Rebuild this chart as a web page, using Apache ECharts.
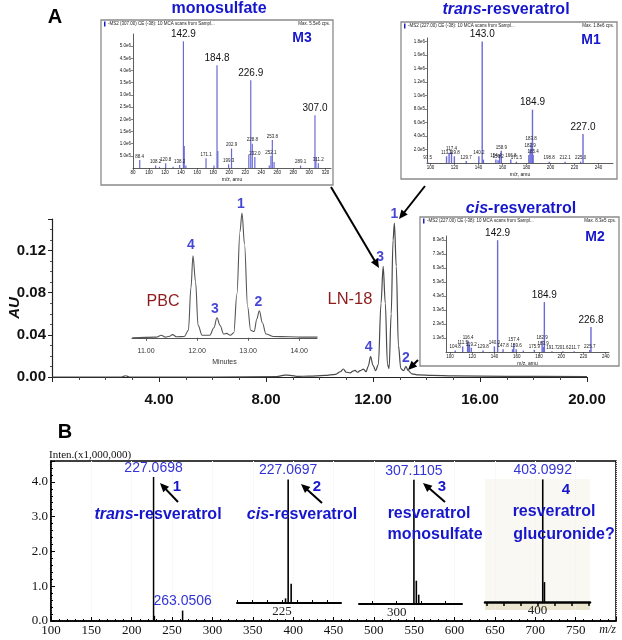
<!DOCTYPE html>
<html>
<head>
<meta charset="utf-8">
<script src="https://cdn.jsdelivr.net/npm/echarts@6/dist/echarts.min.js"></script>
<style>
html, body { margin: 0; padding: 0; background: #fff; }
#chart { width: 622px; height: 640px; }
</style>
</head>
<body>
<div id="chart"></div>
<script>
// ---- Panel A: LN-18 chromatogram (minutes, AU)
const lnTime = [0, 2.6, 2.75, 2.9, 6, 8.4, 8.7, 8.9, 9.2, 9.6, 10.2, 10.6, 10.78, 10.89, 11.0, 11.15, 11.25, 11.33, 11.42, 11.52,
  11.64, 11.74, 11.82, 11.91, 12.0, 12.1, 12.2, 12.3, 12.38, 12.46, 12.54, 12.6, 12.68, 12.75, 12.80, 12.87, 12.95, 13.04, 13.14,
  13.23, 13.32, 13.45, 13.7, 14.2, 15, 17, 20]
const lnAU = [0, 0, 0.0012, 0, 0, 0.0004, 0.0018, 0.0016, 0.0006, 0.0008, 0.0015, 0.0025, 0.005, 0.0076, 0.0045, 0.004, 0.0055, 0.0062, 0.0045, 0.006,
  0.0075, 0.005, 0.01, 0.0194, 0.011, 0.006, 0.012, 0.07, 0.105, 0.07, 0.012, 0.008, 0.06, 0.13, 0.146, 0.105, 0.03, 0.008, 0.006,
  0.0098, 0.006, 0.003, 0.002, 0.0015, 0.001, 0.0006, 0.0004]
const lnPeakNum = ['4', '3', '1', '2']
const lnPeakTime = [11.91, 12.38, 12.80, 13.23]
const lnPeakAU = [0.0194, 0.105, 0.146, 0.0098]

// PBC inset chromatogram (minutes, relative signal)
const pbcTime = [10.73, 11.2, 11.3, 11.38, 11.45, 11.52, 11.6, 11.75, 11.83, 11.88, 11.92, 11.97, 12.02, 12.1, 12.25, 12.33, 12.39, 12.45, 12.52, 12.58,
  12.65, 12.72, 12.78, 12.84, 12.88, 12.93, 12.99, 13.05, 13.12, 13.17, 13.22, 13.28, 13.35, 13.5, 13.8, 14.1, 14.36]
const pbcSignal = [0, 0.005, 0.02, 0.005, 0.01, 0.025, 0.008, 0.01, 0.06, 0.4, 0.656, 0.45, 0.1, 0.02, 0.02, 0.08, 0.16, 0.1, 0.03, 0.035,
  0.02, 0.04, 0.35, 0.85, 1.0, 0.75, 0.25, 0.06, 0.05, 0.15, 0.216, 0.12, 0.03, 0.01, 0.008, 0.005, 0.005]
const pbcPeakNum = ['4', '3', '1', '2']
const pbcPeakTime = [11.92, 12.39, 12.88, 13.22]
const pbcPeakSignal = [0.656, 0.16, 1.0, 0.216]
const pbcTicks = [11, 12, 13, 14]

// MS/MS spectra (m/z, counts)
const m3Mz = [88.4, 108.2, 113.0, 120.8, 130.0, 138.2, 142.9, 143.9, 146.0, 171.1, 181.0, 184.8, 185.8, 199.3, 202.9, 224.5, 226.9, 228.8, 232.0,
  250.0, 252.1, 253.8, 256.0, 289.1, 307.0, 308.2, 311.2]
const m3Int = [0.33e6, 0.10e6, 0.05e6, 0.20e6, 0.05e6, 0.12e6, 5.20e6, 0.90e6, 0.10e6, 0.40e6, 0.10e6, 4.22e6, 0.70e6, 0.15e6, 0.80e6, 0.55e6, 3.60e6, 1.00e6, 0.45e6,
  0.10e6, 0.50e6, 1.15e6, 0.25e6, 0.10e6, 2.17e6, 0.45e6, 0.20e6]
const m3Big = [142.9, 184.8, 226.9, 307.0]
const m3Small = [88.4, 108.2, 120.8, 138.2, 171.1, 199.3, 202.9, 228.8, 232.0, 252.1, 253.8, 289.1, 311.2]

const m1Mz = [97.5, 113.3, 115.4, 117.4, 119.8, 129.7, 140.2, 143.0, 144.0, 154.4, 156.2, 157.5, 158.9, 166.8, 171.5, 181.9, 182.9, 183.8, 184.9, 185.4,
  198.8, 212.1, 225.0, 227.0]
const m1Int = [0.02e6, 0.10e6, 0.15e6, 0.16e6, 0.10e6, 0.03e6, 0.10e6, 1.80e6, 0.05e6, 0.05e6, 0.04e6, 0.12e6, 0.18e6, 0.05e6, 0.02e6, 0.12e6, 0.20e6, 0.30e6, 0.79e6, 0.12e6,
  0.02e6, 0.02e6, 0.02e6, 0.43e6]
const m1Big = [143.0, 184.9, 227.0]
const m1Small = [97.5, 113.3, 117.4, 119.8, 129.7, 140.2, 154.4, 156.2, 158.9, 166.8, 171.5, 182.9, 183.8, 185.4, 198.8, 212.1, 225.0]

const m2Mz = [104.8, 111.5, 115.9, 116.4, 117.5, 119.2, 129.8, 140.0, 142.9, 147.8, 156.3, 157.4, 159.6, 166.0, 175.9, 182.9, 183.9, 184.9, 191.7,
  201.6, 211.7, 225.7, 226.8]
const m2Int = [0.4e5, 0.7e5, 0.9e5, 1.1e5, 0.8e5, 0.6e5, 0.4e5, 0.7e5, 8.3e5, 0.5e5, 0.5e5, 0.9e5, 0.5e5, 0.4e5, 0.45e5, 1.1e5, 0.65e5, 3.87e5, 0.35e5,
  0.35e5, 0.35e5, 0.45e5, 2.09e5]
const m2Big = [142.9, 184.9, 226.8]
const m2Small = [104.8, 111.5, 116.4, 119.2, 129.8, 140.0, 147.8, 157.4, 159.6, 175.9, 182.9, 183.9, 191.7, 201.6, 211.7, 225.7]
const mzTicks = [100, 120, 140, 160, 180, 200, 220, 240]

// ---- Panel B: accurate mass spectrum (m/z, x1,000,000)
const bMainMz = [227.0698, 228.07, 263.0506]
const bMainInt = [4.14, 0.15, 0.30]
const bMainTagged = [227.0698, 263.0506]
const bCisMz = [226.2, 227.0697, 228.07]
const bCisInt = [0.15, 4.0, 0.62]
const bMonoMz = [307.1105, 308.11, 309.1]
const bMonoInt = [4.0, 0.75, 0.3]
const bGlucMz = [403.0992, 404.1]
const bGlucInt = [4.0, 0.65]
const cisTicks = [210, 215, 220, 225, 230, 235, 240]
const monoTicks = [290, 300, 310, 320]
const glucTicks = [370, 380, 390, 400, 410, 420, 430]

const SANS = '"Liberation Sans", Arial, sans-serif'
const SERIF = '"Liberation Serif", "Times New Roman", serif'
const BLUE = '#1616cc'
const LBLUE = '#3434d6'
const DARKRED = '#8e1c1c'
const SPEC = '#6a6ad6'

const zip = (xs, ys) => xs.map((x, i) => [x, ys[i]])

// label offsets for peak numbers (style only)
const lnShift = [[-2, 0], [-3, 0], [0, 0], [0, 0]]
const pbcShift = [[-2, -2], [-2, 0], [-1, 0], [-1, 0]]

function peakNumbers(times, vals, nums, shift) {
  return times.map((t, i) => ({
    value: [t, vals[i]],
    label: { show: true, formatter: nums[i], offset: shift[i] },
  }))
}

function specData(mz, inten, big, small) {
  return mz.map((m, i) => {
    const item = { value: [m, inten[i]] }
    if (big.includes(m)) {
      item.label = { show: true, position: 'top', distance: 2, formatter: m.toFixed(1), fontSize: 10, color: '#111', fontFamily: SANS }
    } else if (small.includes(m)) {
      item.label = { show: true, position: 'top', distance: 1, formatter: m.toFixed(1), fontSize: 4.5, color: '#222', fontFamily: SANS }
    }
    return item
  })
}

function bData(mz, inten, tagged) {
  return mz.map((m, i) => {
    const item = { value: [m, inten[i]] }
    if (tagged.includes(m)) {
      item.label = { show: true, position: 'top', distance: 2, formatter: m.toFixed(4), fontSize: 14, color: LBLUE, fontFamily: SANS }
    }
    return item
  })
}

const eFmt = v => v >= 1e6 ? (v / 1e6).toFixed(1) + 'e6' : (v / 1e5).toFixed(1) + 'e5'

// small spectrum axes
function specX(grid, min, max, extra) {
  return Object.assign({
    gridIndex: grid, type: 'value', min, max,
    axisLine: { lineStyle: { color: '#333', width: 0.8 } },
    axisTick: { show: true, length: 2, lineStyle: { color: '#333', width: 0.6 } },
    axisLabel: { fontSize: 4.5, color: '#111', margin: 2, fontFamily: SANS, showMaxLabel: false },
    splitLine: { show: false },
    name: 'm/z, amu', nameLocation: 'middle', nameGap: 9,
    nameTextStyle: { fontSize: 5, color: '#111', fontFamily: SANS },
  }, extra)
}
function specY(grid, min, max, interval) {
  return {
    gridIndex: grid, type: 'value', min, max, interval,
    axisLine: { show: true, lineStyle: { color: '#333', width: 0.8 } },
    axisTick: { show: true, length: 2, lineStyle: { color: '#333', width: 0.6 } },
    axisLabel: { fontSize: 4.5, color: '#111', margin: 2, fontFamily: SANS, showMinLabel: false, showMaxLabel: false, formatter: eFmt },
    splitLine: { show: false },
  }
}
function zoomX(grid, min, max, ticks, labels, extra) {
  return Object.assign({
    gridIndex: grid, type: 'value', min, max,
    axisLine: { lineStyle: { color: '#000', width: 2 } },
    axisTick: { show: true, inside: true, length: 3, customValues: ticks, lineStyle: { color: '#000', width: 1 } },
    axisLabel: { customValues: labels, fontSize: 13, color: '#222', margin: 2, fontFamily: SERIF },
    splitLine: { show: false },
  }, extra)
}
const hiddenY = (grid, min, max) => ({ gridIndex: grid, type: 'value', min, max, show: false, splitLine: { show: false } })

function txt(x, y, text, style, extra) {
  return Object.assign({
    type: 'text', x, y, z: 100,
    style: Object.assign({ text, align: 'center', verticalAlign: 'middle', fontFamily: SANS, fontSize: 12, fill: '#000' }, style),
  }, extra)
}
function box(x, y, w, h) {
  return { type: 'rect', z: -1, shape: { x, y, width: w, height: h }, style: { fill: '#fff', stroke: '#8a8a8a', lineWidth: 1.3 } }
}
function header(x, y, w, left, right) {
  return [
    { type: 'rect', z: 100, shape: { x: x + 3, y: y - 2.5, width: 1.5, height: 5 }, style: { fill: '#2020c0' } },
    txt(x + 7, y, left, { align: 'left', fontSize: 4.5, fill: '#222' }),
    txt(x + w - 3, y, right, { align: 'right', fontSize: 4.5, fill: '#222' }),
  ]
}
const titleStyle = { fontSize: 16, fontWeight: 'bold', fill: BLUE }
const italicRich = (size) => ({
  i: { fontStyle: 'italic', fontWeight: 'bold', fontSize: size, fill: BLUE, fontFamily: SANS },
  n: { fontWeight: 'bold', fontSize: size, fill: BLUE, fontFamily: SANS },
})

// annotation arrows: [fromX, fromY, tipX, tipY]
const arrowsA = [[331, 187, 379, 268], [425, 186, 399, 219], [418, 360, 408, 370]]
const arrowsB = [[178, 502, 160, 483], [322, 503, 301, 484], [445, 502, 423, 483]]

function arrow(a) {
  const [x1, y1, x2, y2] = a
  const len = Math.hypot(x2 - x1, y2 - y1)
  const ux = (x2 - x1) / len, uy = (y2 - y1) / len
  const head = 9, half = 4
  const bx = x2 - ux * head, by = y2 - uy * head
  return [
    { type: 'line', z: 90, shape: { x1, y1, x2: bx + ux * 2, y2: by + uy * 2 }, style: { stroke: '#000', lineWidth: 2 } },
    { type: 'polygon', z: 90, shape: { points: [[x2, y2], [bx - uy * half, by + ux * half], [bx + uy * half, by - ux * half]] }, style: { fill: '#000' } },
  ]
}

const chart = echarts.init(document.getElementById('chart'))

chart.setOption({
  animation: false,
  backgroundColor: '#fff',
  grid: [
    { left: 52, right: 35, top: 219, bottom: 263 },                 // 0 A main
    { left: 132, right: 305, top: 213, bottom: 296 },               // 1 PBC inset
    { left: 133, right: 291, top: 34, bottom: 472 },                // 2 M3
    { left: 427, right: 9, top: 38, bottom: 477 },                  // 3 M1
    { left: 446, right: 13, top: 236, bottom: 288 },                // 4 M2
    { left: 51, right: 6, top: 461, bottom: 19, show: true, borderColor: '#000', borderWidth: 1.5 }, // 5 B main
    { left: 237, right: 281, top: 461, bottom: 37 },                // 6 cis zoom
    { left: 359, right: 160, top: 461, bottom: 36 },                // 7 mono zoom
    { left: 485, right: 32, top: 461, bottom: 38 },                 // 8 gluc zoom
  ],
  xAxis: [
    {
      gridIndex: 0, type: 'value', min: 0, max: 20, interval: 4, offset: 8,
      axisLine: { lineStyle: { color: '#222', width: 1.2 } },
      axisTick: { length: 5, lineStyle: { color: '#222' } },
      minorTick: { show: true, splitNumber: 4, length: 3, lineStyle: { color: '#444' } },
      splitLine: { show: false },
      axisLabel: { showMinLabel: false, formatter: v => v.toFixed(2), fontFamily: SANS, fontWeight: 'bold', fontSize: 15, color: '#111', margin: 7 },
    },
    {
      gridIndex: 1, type: 'value', min: 10.725, max: 14.35,
      axisLine: { lineStyle: { color: '#555', width: 1 } },
      axisTick: { show: true, length: 3, customValues: pbcTicks, lineStyle: { color: '#555' } },
      axisLabel: { customValues: pbcTicks, formatter: v => v.toFixed(2), fontSize: 7, color: '#333', margin: 4, fontFamily: SANS },
      splitLine: { show: false },
      name: 'Minutes', nameLocation: 'middle', nameGap: 15, nameTextStyle: { fontSize: 7, color: '#333', fontFamily: SANS },
    },
    specX(2, 80, 327, { interval: 20 }),
    specX(3, 97, 252, { axisTick: { show: true, length: 2, customValues: mzTicks, lineStyle: { color: '#333', width: 0.6 } },
      axisLabel: { customValues: mzTicks, fontSize: 4.5, color: '#111', margin: 2, fontFamily: SANS } }),
    specX(4, 96.5, 243, { axisTick: { show: true, length: 2, customValues: mzTicks, lineStyle: { color: '#333', width: 0.6 } },
      axisLabel: { customValues: mzTicks, fontSize: 4.5, color: '#111', margin: 2, fontFamily: SANS } }),
    {
      gridIndex: 5, type: 'value', min: 100, max: 800, interval: 50,
      axisLine: { lineStyle: { color: '#000', width: 1.5 } },
      axisTick: { inside: true, length: 4, lineStyle: { color: '#000' } },
      minorTick: { show: true, splitNumber: 5, length: 2, lineStyle: { color: '#000' } },
      splitLine: { show: true, lineStyle: { color: '#f1f1f1', type: 'dotted' } },
      axisLabel: {
        fontFamily: SERIF, fontSize: 13, color: '#111', margin: 3, alignMaxLabel: 'right',
        formatter: v => v === 800 ? '{u|m/z}' : String(v),
        rich: { u: { fontFamily: SERIF, fontStyle: 'italic', fontSize: 12, color: '#111' } },
      },
    },
    zoomX(6, 210, 244.7, cisTicks, [225]),
    zoomX(7, 284.4, 327, monoTicks, [300]),
    zoomX(8, 369, 431, glucTicks, [400], {
      axisLine: { lineStyle: { color: '#000', width: 2.5 } },
      axisTick: { show: true, inside: false, length: 4, customValues: glucTicks, lineStyle: { color: '#000', width: 1.5 } },
    }),
  ],
  yAxis: [
    {
      gridIndex: 0, type: 'value', min: 0, max: 0.15, interval: 0.04,
      axisLine: { show: true, lineStyle: { color: '#222', width: 1.2 } },
      axisTick: { show: true, length: 4, lineStyle: { color: '#222' } },
      minorTick: { show: true, splitNumber: 4, length: 2, lineStyle: { color: '#555' } },
      splitLine: { show: false },
      axisLabel: { showMaxLabel: false, formatter: v => v.toFixed(2), fontFamily: SANS, fontWeight: 'bold', fontSize: 15, color: '#111', margin: 6 },
    },
    hiddenY(1, -0.05, 1.0),
    specY(2, 0, 5.5e6, 5e5),
    specY(3, 0, 1.85e6, 2e5),
    specY(4, 0.3e5, 8.6e5, 1e5),
    {
      gridIndex: 5, type: 'value', min: 0, max: 4.6, interval: 1,
      axisLine: { show: true, lineStyle: { color: '#000', width: 1.5 } },
      axisTick: { show: true, inside: true, length: 4, lineStyle: { color: '#000' } },
      minorTick: { show: true, splitNumber: 5, length: 2, lineStyle: { color: '#000' } },
      splitLine: { show: false },
      axisLabel: { showMaxLabel: false, formatter: v => v.toFixed(1), fontFamily: SERIF, fontSize: 13, color: '#111', margin: 3 },
    },
    hiddenY(6, 0, 4.6),
    hiddenY(7, 0, 4.6),
    hiddenY(8, 0, 4.6),
  ],
  series: [
    {
      name: 'LN-18', type: 'line', xAxisIndex: 0, yAxisIndex: 0,
      data: zip(lnTime, lnAU), showSymbol: false, smooth: 0.35, smoothMonotone: 'x',
      lineStyle: { color: '#4a4a4a', width: 1.2 },
    },
    {
      type: 'scatter', xAxisIndex: 0, yAxisIndex: 0, symbolSize: 0, silent: true,
      data: peakNumbers(lnPeakTime, lnPeakAU, lnPeakNum, lnShift),
      label: { position: 'top', distance: 2, fontFamily: SANS, fontWeight: 'bold', fontSize: 14, color: BLUE },
    },
    {
      name: 'PBC', type: 'line', xAxisIndex: 1, yAxisIndex: 1,
      data: zip(pbcTime, pbcSignal), showSymbol: false, smooth: 0.35, smoothMonotone: 'x',
      lineStyle: { color: '#555', width: 1.1 },
    },
    {
      type: 'scatter', xAxisIndex: 1, yAxisIndex: 1, symbolSize: 0, silent: true,
      data: peakNumbers(pbcPeakTime, pbcPeakSignal, pbcPeakNum, pbcShift),
      label: { position: 'top', distance: 2, fontFamily: SANS, fontWeight: 'bold', fontSize: 14, color: BLUE },
    },
    { type: 'bar', xAxisIndex: 2, yAxisIndex: 2, barWidth: 1.2, itemStyle: { color: SPEC }, data: specData(m3Mz, m3Int, m3Big, m3Small) },
    { type: 'bar', xAxisIndex: 3, yAxisIndex: 3, barWidth: 1.4, itemStyle: { color: SPEC }, data: specData(m1Mz, m1Int, m1Big, m1Small) },
    { type: 'bar', xAxisIndex: 4, yAxisIndex: 4, barWidth: 1.4, itemStyle: { color: SPEC }, data: specData(m2Mz, m2Int, m2Big, m2Small) },
    { type: 'bar', xAxisIndex: 5, yAxisIndex: 5, barWidth: 1.5, itemStyle: { color: '#000' }, data: bData(bMainMz, bMainInt, bMainTagged) },
    { type: 'bar', xAxisIndex: 6, yAxisIndex: 6, barWidth: 1.6, itemStyle: { color: '#000' }, data: bData(bCisMz, bCisInt, [227.0697]) },
    { type: 'bar', xAxisIndex: 7, yAxisIndex: 7, barWidth: 1.6, itemStyle: { color: '#000' }, data: bData(bMonoMz, bMonoInt, [307.1105]) },
    { type: 'bar', xAxisIndex: 8, yAxisIndex: 8, barWidth: 1.6, itemStyle: { color: '#000' }, data: bData(bGlucMz, bGlucInt, [403.0992]) },
  ],
  graphic: [
    // spectrum frames
    box(101, 20, 232, 165),
    box(401, 22, 216, 157),
    box(420, 217, 199, 149),
    ...header(101, 24, 232, '-MS2 (307.00) CE (-38): 10 MCA scans from Sampl...', 'Max. 5.5e6 cps.'),
    ...header(401, 26, 216, '-MS2 (227.00) CE (-38): 10 MCA scans from Sampl...', 'Max. 1.8e6 cps.'),
    ...header(420, 221, 199, '-MS2 (227.00) CE (-38): 10 MCA scans from Sampl...', 'Max. 8.3e5 cps.'),
    txt(302, 38, 'M3', { fontSize: 14, fontWeight: 'bold', fill: BLUE }),
    txt(591, 40, 'M1', { fontSize: 14, fontWeight: 'bold', fill: BLUE }),
    txt(595, 237, 'M2', { fontSize: 14, fontWeight: 'bold', fill: BLUE }),
    // panel A titles
    txt(55, 17, 'A', { fontSize: 20, fontWeight: 'bold', fill: '#000' }),
    txt(219, 9, 'monosulfate', titleStyle),
    txt(506, 10, '{i|trans}{n|-resveratrol}', Object.assign({ rich: italicRich(16) }, titleStyle)),
    txt(521, 209, '{i|cis}{n|-resveratrol}', Object.assign({ rich: italicRich(16) }, titleStyle)),
    txt(163, 302, 'PBC', { fontSize: 16, fill: DARKRED }),
    txt(350, 299, 'LN-18', { fontSize: 16.5, fill: DARKRED }),
    txt(15, 308, 'AU', { fontSize: 15, fontWeight: 'bold', fontStyle: 'italic', fill: '#111' }, { rotation: Math.PI / 2 }),
    ...arrowsA.flatMap(arrow),
    // panel B
    { type: 'rect', z: -2, shape: { x: 485, y: 479, width: 105, height: 123 }, style: { fill: '#faf8f2' } },
    { type: 'rect', z: -2, shape: { x: 485, y: 602, width: 105, height: 8 }, style: { fill: '#ece5d0' } },
    txt(65, 432, 'B', { fontSize: 20, fontWeight: 'bold', fill: '#000' }),
    txt(49, 455, 'Inten.(x1,000,000)', { align: 'left', fontFamily: SERIF, fontSize: 11, fill: '#111' }),
    txt(177, 487, '1', { fontSize: 15, fontWeight: 'bold', fill: BLUE }),
    txt(317, 487, '2', { fontSize: 15, fontWeight: 'bold', fill: BLUE }),
    txt(442, 487, '3', { fontSize: 15, fontWeight: 'bold', fill: BLUE }),
    txt(566, 490, '4', { fontSize: 15, fontWeight: 'bold', fill: BLUE }),
    ...arrowsB.flatMap(arrow),
    txt(158, 515, '{i|trans}{n|-resveratrol}', Object.assign({ rich: italicRich(16) }, titleStyle)),
    txt(302, 515, '{i|cis}{n|-resveratrol}', Object.assign({ rich: italicRich(16) }, titleStyle)),
    txt(429, 514, 'resveratrol', titleStyle),
    txt(435, 535, 'monosulfate', titleStyle),
    txt(554, 512, 'resveratrol', titleStyle),
    txt(564, 535, 'glucuronide?', titleStyle),
  ],
})
</script>
</body>
</html>
